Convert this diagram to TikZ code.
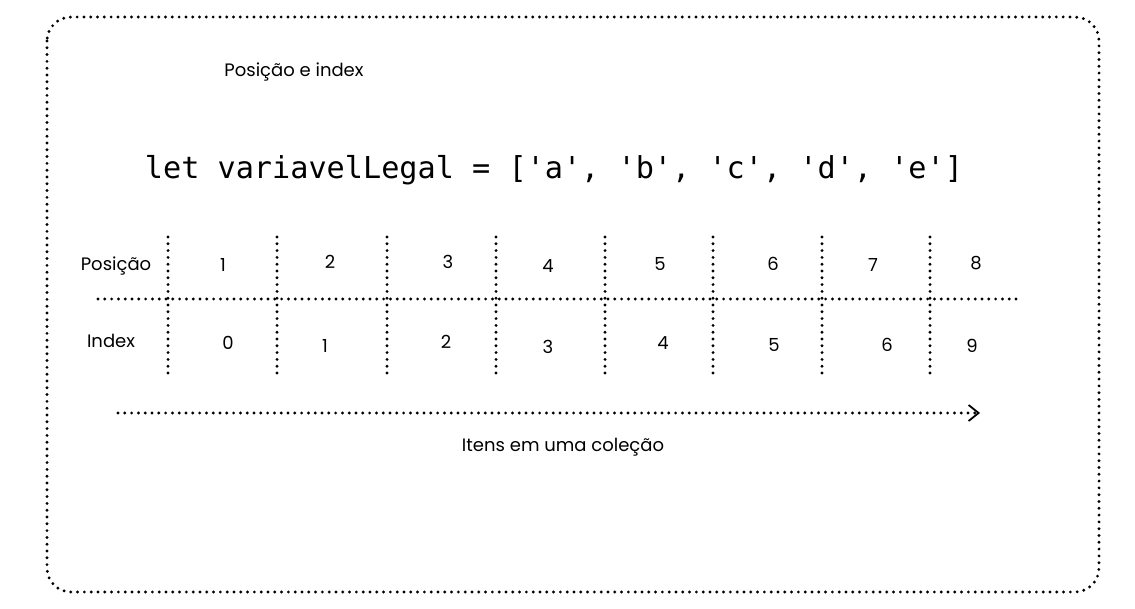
\documentclass[tikz,border=0pt]{standalone}
\usepackage{fontspec}
\setmainfont{Poppins}
\newfontfamily\codefont{DejaVu Sans Mono}
\usetikzlibrary{arrows.meta}

\begin{document}
\begin{tikzpicture}[x=1pt,y=-1pt]
\tikzset{dotline/.style = {line width=3.2pt, dash pattern=on 0pt off 6.8pt, line cap=round}}
\tikzset{hand/.style = {font=\fontsize{18}{20}\selectfont, inner sep=0pt}}
\tikzset{code/.style = {font=\codefont\fontsize{30.2}{34}\selectfont, inner sep=0pt}}
\def \ytop {237}
\def \ybot {378}
\useasboundingbox (0,0) rectangle (1135,609);
% outer frame
\draw[dotline, rounded corners=24pt] (47,17) rectangle (1099,592);
\node[hand](title) at (294,72) {Posição e index};
\node[code](codeline) at (554,170) {let variavelLegal = ['a', 'b', 'c', 'd', 'e']};
% table
\coordinate (h0) at (98,299);
\coordinate (h1) at (1022,299);
\draw[dotline] (h0) -- (h1);
\coordinate (t1) at (168,\ytop); \coordinate (b1) at (168,\ybot);
\coordinate (t2) at (277,\ytop); \coordinate (b2) at (277,\ybot);
\coordinate (t3) at (387,\ytop); \coordinate (b3) at (387,\ybot);
\coordinate (t4) at (496,\ytop); \coordinate (b4) at (496,\ybot);
\coordinate (t5) at (605,\ytop); \coordinate (b5) at (605,\ybot);
\coordinate (t6) at (713,\ytop); \coordinate (b6) at (713,\ybot);
\coordinate (t7) at (822,\ytop); \coordinate (b7) at (822,\ybot);
\coordinate (t8) at (930,\ytop); \coordinate (b8) at (930,\ybot);
\draw[dotline] (t1) -- (b1);
\draw[dotline] (t2) -- (b2);
\draw[dotline] (t3) -- (b3);
\draw[dotline] (t4) -- (b4);
\draw[dotline] (t5) -- (b5);
\draw[dotline] (t6) -- (b6);
\draw[dotline] (t7) -- (b7);
\draw[dotline] (t8) -- (b8);
\node[hand](poslabel) at (116,266) {Posição};
\node[hand](idxlabel) at (111,341) {Index};
\node[hand](p1) at (223,265) {1};
\node[hand](p2) at (330,262) {2};
\node[hand](p3) at (448,262) {3};
\node[hand](p4) at (548,266) {4};
\node[hand](p5) at (660,264) {5};
\node[hand](p6) at (773,264) {6};
\node[hand](p7) at (873,265) {7};
\node[hand](p8) at (976,263) {8};
\node[hand](i0) at (228,343) {0};
\node[hand](i1) at (325,346) {1};
\node[hand](i2) at (446,342) {2};
\node[hand](i3) at (548,347) {3};
\node[hand](i4) at (663,343) {4};
\node[hand](i5) at (774,345) {5};
\node[hand](i6) at (887,345) {6};
\node[hand](i9) at (972,346) {9};
% arrow
\coordinate (a0) at (118,413);
\coordinate (a1) at (980,413);
\draw[dotline, -{Straight Barb[length=10pt, width=16pt, line width=1.8pt]}] (a0) -- (a1);
\node[hand](caption) at (563,447) {Itens em uma coleção};
\end{tikzpicture}
\end{document}
